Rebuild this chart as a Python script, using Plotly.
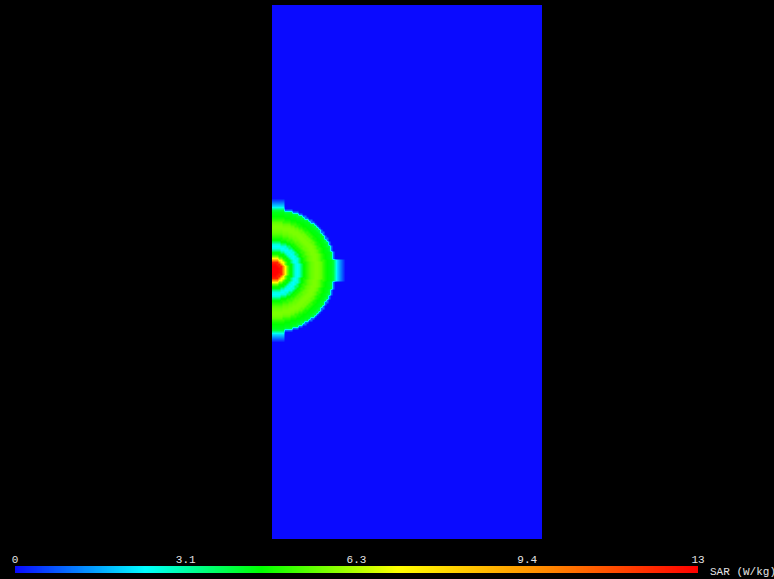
import numpy as np
import plotly.graph_objects as go

# ---- data ----
# grid of the slice, 1 cell = 1 unit; source centred on the left edge
n_cols = 135
n_rows = 267
source_col = 0
source_row = 134

# SAR (W/kg) versus distance from the source, one value per cell of radius
sar_profile = [12.5, 12.5, 12.5, 12.3, 11.8, 9.5, 7.0, 5.6, 4.7, 4.4,
               3.4, 2.6, 2.4, 2.7, 3.6, 4.4, 4.7, 5.0, 5.3, 5.5,
               5.6, 5.7, 5.7, 5.6, 5.4, 5.0, 4.7, 4.5, 4.4, 4.3,
               4.0, 1.0]
# small lobes just outside the disc, along the axes through the source
lobe_radius = [31, 32, 33, 34, 35]
lobe_sar = [3.0, 2.0, 1.5, 1.0, 0.5]
lobe_halfwidth = 5

sar_min = 0.0
sar_max = 12.5
tick_values = [0.0, 3.125, 6.25, 9.375, 12.5]
tick_labels = ["0", "3.1", "6.3", "9.4", "13"]
colorbar_title = "SAR (W/kg)"

# ---- build field ----
cols = np.arange(n_cols)
rows = np.arange(n_rows)
dx = cols[None, :] - source_col
dy = rows[:, None] - source_row
r_idx = np.rint(np.sqrt(dx ** 2 + dy ** 2)).astype(int)
prof = np.array(sar_profile + [0.0])
z = prof[np.minimum(r_idx, len(prof) - 1)]
near_axis = np.minimum(np.abs(dx), np.abs(dy)) <= lobe_halfwidth
for rr, val in zip(lobe_radius, lobe_sar):
    mask = near_axis & (r_idx == rr)
    z = np.where(mask, np.maximum(z, val), z)

# colour ramp shown in the scale bar
scale_levels = np.linspace(sar_min, sar_max, 400)

colorscale = [
    [0.0, "rgb(10,10,255)"],
    [0.19, "rgb(0,255,255)"],
    [0.36, "rgb(0,255,0)"],
    [0.56, "rgb(255,255,0)"],
    [0.78, "rgb(255,135,0)"],
    [1.0, "rgb(255,0,0)"],
]

font = dict(family="Liberation Mono, DejaVu Sans Mono, monospace", size=11, color="#e6e6e6")

W, H = 774, 579
fig = go.Figure()
fig.add_trace(go.Heatmap(
    z=z, x=cols, y=rows,
    zmin=sar_min, zmax=sar_max,
    colorscale=colorscale,
    zsmooth="best",
    showscale=False,
    hoverinfo="skip",
    xaxis="x", yaxis="y",
))
fig.add_trace(go.Heatmap(
    z=[scale_levels], x=scale_levels, y=[0],
    zmin=sar_min, zmax=sar_max,
    colorscale=colorscale,
    zsmooth="best",
    showscale=False,
    hoverinfo="skip",
    xaxis="x2", yaxis="y2",
))

fig.update_layout(
    width=W, height=H,
    margin=dict(l=0, r=0, t=0, b=0, pad=0, autoexpand=False),
    paper_bgcolor="black", plot_bgcolor="black",
    showlegend=False,
    font=font,
    xaxis=dict(domain=[272 / W, 542 / W], range=[-0.5, n_cols - 0.5],
               visible=False, showgrid=False, zeroline=False, automargin=False),
    yaxis=dict(domain=[40 / H, 1 - 5 / H], range=[-0.5, n_rows - 0.5],
               visible=False, showgrid=False, zeroline=False, automargin=False),
    xaxis2=dict(domain=[15 / W, 698 / W], range=[sar_min, sar_max],
                anchor="y2", side="top",
                tickvals=tick_values, ticktext=tick_labels,
                ticks="", showgrid=False, zeroline=False, showline=False,
                tickfont=font, ticklabelstandoff=0, automargin=False),
    yaxis2=dict(domain=[(H - 573) / H, (H - 566) / H], range=[-0.5, 0.5],
                anchor="x2", visible=False, showgrid=False, zeroline=False,
                automargin=False),
    annotations=[dict(
        text=colorbar_title, xref="x2 domain", yref="y2 domain",
        x=1, y=0.5, xanchor="left", yanchor="middle",
        xshift=10, yshift=-2, showarrow=False, font=font,
    )],
)

fig.write_html(
    "out.html",
    config={"displayModeBar": False},
    post_script="document.body.style.margin='0';document.body.style.background='black';",
)
